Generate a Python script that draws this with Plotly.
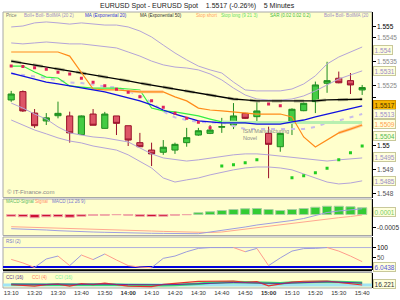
import plotly.graph_objects as go

# ---------------- data ----------------
times = ["13:10","13:15","13:20","13:25","13:30","13:35","13:40","13:45","13:50","13:55",
         "14:00","14:05","14:10","14:15","14:20","14:25","14:30","14:35","14:40","14:45",
         "14:50","14:55","15:00","15:05","15:10","15:15","15:20","15:25","15:30","15:35","15:40"]

open_ = [1.5519, 1.55225, 1.55135, 1.55102, 1.55124, 1.55123, 1.55045, 1.55131, 1.55071, 1.55123,
         1.55082, 1.55011, 1.5498, 1.54971, 1.5498, 1.55011, 1.55043, 1.5505, 1.55076, 1.55085,
         1.55134, 1.5512, 1.5505, 1.54994, 1.55092, 1.55145, 1.55183, 1.5526, 1.55281, 1.55271, 1.55232]
high_ = [1.55228, 1.5523, 1.55152, 1.55135, 1.55183, 1.55141, 1.55125, 1.55152, 1.5514, 1.55123,
         1.55082, 1.55052, 1.55011, 1.55022, 1.55011, 1.55073, 1.55073, 1.55085, 1.55115, 1.55177,
         1.55136, 1.55183, 1.55078, 1.55052, 1.55155, 1.5518, 1.55267, 1.5535, 1.55309, 1.55303, 1.55253]
low_ = [1.55182, 1.5514, 1.55073, 1.55085, 1.55113, 1.55011, 1.55043, 1.55084, 1.5507, 1.55043,
        1.54997, 1.54994, 1.54913, 1.5496, 1.54964, 1.54994, 1.5504, 1.55047, 1.55052, 1.55068,
        1.55111, 1.55102, 1.54862, 1.54973, 1.55043, 1.55143, 1.55135, 1.5522, 1.5526, 1.55215, 1.55211]
close_ = [1.55215, 1.55144, 1.55082, 1.55115, 1.55134, 1.55052, 1.55123, 1.55084, 1.55131, 1.55092,
          1.55022, 1.54994, 1.54964, 1.54992, 1.55004, 1.55032, 1.55061, 1.55064, 1.55078, 1.55123,
          1.55113, 1.55144, 1.55004, 1.5505, 1.55151, 1.55176, 1.55253, 1.55271, 1.55262, 1.55253, 1.55242]

boll_outer_up = [1.55496, 1.555, 1.55513, 1.55517, 1.55513, 1.55508, 1.55513, 1.55508, 1.55504, 1.55504,
                 1.55496, 1.55479, 1.55454, 1.5542, 1.55387, 1.55358, 1.55332, 1.55316, 1.55303, 1.55265,
                 1.55232, 1.55228, 1.55228, 1.55228, 1.55236, 1.55257, 1.55291, 1.55341, 1.5537, 1.55391, 1.55412]
boll_inner_up = [1.55429, 1.55425, 1.55429, 1.55433, 1.55429, 1.55425, 1.55425, 1.5542, 1.55416, 1.55408,
                 1.55391, 1.55374, 1.55353, 1.55337, 1.55328, 1.55324, 1.55316, 1.55299, 1.55274, 1.5524,
                 1.55211, 1.55194, 1.5519, 1.5519, 1.55194, 1.55207, 1.55228, 1.55253, 1.55278, 1.55295, 1.55312]
boll_mid = [1.55301, 1.55293, 1.55288, 1.55282, 1.55272, 1.55263, 1.55261, 1.55253, 1.55247, 1.55242,
            1.55228, 1.55207, 1.5518, 1.55142, 1.55117, 1.55106, 1.55098, 1.55096, 1.55096, 1.55081,
            1.55068, 1.55068, 1.55068, 1.55066, 1.55066, 1.55068, 1.55077, 1.55094, 1.55104, 1.55117, 1.55131]
boll_inner_low = [1.55177, 1.55156, 1.55131, 1.5511, 1.55077, 1.55052, 1.55043, 1.55035, 1.55031, 1.55022,
                  1.55014, 1.54989, 1.54964, 1.54947, 1.54939, 1.54934, 1.54939, 1.54947, 1.54955, 1.5496,
                  1.54964, 1.54964, 1.5496, 1.54955, 1.54951, 1.54947, 1.54939, 1.54934, 1.54939, 1.54943, 1.54947]
boll_outer_low = [1.55106, 1.55085, 1.55064, 1.55048, 1.55031, 1.55018, 1.5501, 1.54997, 1.54989, 1.5498,
                  1.5496, 1.54934, 1.54905, 1.54863, 1.54846, 1.54855, 1.54863, 1.54876, 1.54888, 1.54897,
                  1.54905, 1.54909, 1.54909, 1.54905, 1.54897, 1.5488, 1.54863, 1.54846, 1.54838, 1.54842, 1.54851]
ema20 = [1.55303, 1.55291, 1.55278, 1.55265, 1.55257, 1.55249, 1.5524, 1.55232, 1.55224, 1.55211,
         1.55198, 1.55186, 1.55169, 1.55148, 1.55131, 1.55115, 1.55102, 1.55098, 1.55094, 1.55094,
         1.55094, 1.55089, 1.55089, 1.55089, 1.55098, 1.55106, 1.55119, 1.55131, 1.55144, 1.55156, 1.55165]
ema50 = [1.55353, 1.55345, 1.55337, 1.55328, 1.5532, 1.55312, 1.55303, 1.55295, 1.55286, 1.55278,
         1.5527, 1.55261, 1.55253, 1.55244, 1.55236, 1.55228, 1.55219, 1.55211, 1.55203, 1.55194,
         1.5519, 1.55186, 1.55186, 1.55186, 1.55186, 1.55186, 1.55186, 1.5519, 1.5519, 1.55192, 1.55193]
stop_short = [1.55391, 1.55391, 1.55391, 1.55391, 1.55391, 1.55374, 1.55307, 1.55236, 1.55232, 1.55232,
              1.55228, 1.55224, 1.55224, 1.55224, 1.55203, 1.55186, 1.55156, 1.55148, 1.55144, 1.5514,
              1.55136, 1.55131, 1.55131, 1.55131, 1.55119, 1.55035, 1.54993, 1.55022, 1.55052, 1.55068, 1.55085]
stop_long = [1.55332, 1.55332, 1.55307, 1.55286, 1.55282, 1.55249, 1.55244, 1.5524, 1.5524, 1.5524,
             1.55236, 1.55232, 1.55156, 1.55144, 1.5514, 1.55131, 1.55123, 1.5511, 1.55098, 1.55096,
             1.55096, 1.55096, 1.55096, 1.55096, 1.55096, 1.55096, 1.55096, 1.55096, 1.55096, 1.55096, 1.55096]
sar = [1.55332, 1.5533, 1.55325, 1.55319, 1.55306, 1.55299, 1.55281, 1.55264, 1.5525, 1.55235,
       1.55222, 1.55204, 1.55187, 1.55159, 1.55134, 1.55113, 1.55097, 1.55074, 1.54913, 1.54918,
       1.54927, 1.54939, 1.55173, 1.55166, 1.54864, 1.54872, 1.54885, 1.54904, 1.54939, 1.54969, 1.54997]

macd_hist = [-0.00007, -0.00009, -0.00013, -0.00009, -0.00009, -0.00011, -0.00007, -0.00004, -0.00003, -0.00001,
             -0.00003, -0.00007, -0.00008, -0.00007, -0.00003, -0.00001, 0.00007, 0.00011, 0.00016, 0.0002,
             0.00023, 0.00024, 0.0002, 0.00016, 0.0002, 0.00024, 0.00029, 0.00033, 0.00033, 0.00031, 0.00027]
macd_line = [-0.000568, -0.00058, -0.000592, -0.00062, -0.000648, -0.000672, -0.000688, -0.0007, -0.000712, -0.000728,
             -0.000736, -0.000744, -0.000752, -0.000756, -0.00076, -0.000764, -0.000768, -0.0007, -0.00064, -0.00056,
             -0.0005, -0.00042, -0.00036, -0.00032, -0.00024, -0.00016, -0.00004, 0.00008, 0.00014, 0.00019, 0.00023]
macd_signal = [-0.000488, -0.0005, -0.000512, -0.000528, -0.00054, -0.00056, -0.00058, -0.000592, -0.000608, -0.00062,
               -0.000632, -0.000648, -0.00066, -0.000676, -0.000692, -0.000708, -0.000728, -0.00072, -0.0007, -0.00064,
               -0.000592, -0.00054, -0.00048, -0.00042, -0.00036, -0.0003, -0.00024, -0.00018, -0.000128, -0.00008, -0.00002]

rsi2 = [43, 26, 4, 45, 59, 13, 64, 42, 69, 40, 13, 6, 3, 48, 59, 80, 96, 100, 100, 100,
        80, 96, 13, 50, 83, 95, 96, 100, 83, 59, 32]
rsi_level = 6.0438

cci16 = [40, 30, 20, 30, 40, 20, 30, 40, 50, 30, 20, 10, 0, 10, 20, 40, 60, 80, 100, 110,
         100, 90, 60, 70, 90, 110, 130, 140, 130, 110, 90]
cci4 = [10, -20, -50, 20, 40, -50, 60, 20, 80, 20, -50, -60, -70, 30, 60, 120, 160, 170, 180, 180,
        120, 150, -40, 40, 130, 170, 180, 180, 120, 60, 0]
cci16b = [20, 10, 0, 10, 20, 0, 10, 20, 30, 10, 0, -10, -20, -10, 0, 20, 60, 100, 120, 130,
          120, 110, 70, 80, 110, 130, 140, 150, 140, 120, 100]

price_ticks = [1.548, 1.5485, 1.549, 1.5495, 1.55, 1.5505, 1.551, 1.5515, 1.552, 1.5525,
               1.553, 1.5535, 1.554, 1.5545, 1.555]
price_labels = [(1.555, "1.555", "#000000"), (1.5545, "1.5545", "#888888"), (1.5535, "1.5535", "#888888"),
                (1.5525, "1.5525", "#888888"), (1.55, "1.55", "#000000"), (1.549, "1.549", "#555555"),
                (1.548, "1.548", "#555555")]
price_boxes = [(1.554, "1.554", "#9C8CC8"), (1.5531, "1.5531", "#9C8CC8"),
               (1.5517, "1.5517", "#4a3000"), (1.5513, "1.5513", "#9C8CC8"), (1.5509, "1.5509", "#FFA050"),
               (1.5504, "1.5504", "#55BB55"), (1.5495, "1.5495", "#9C8CC8"), (1.5485, "1.5485", "#9C8CC8")]
last_price_label = "1.5517"

x_tick_vals = times[::2]
x_tick_text = [("<b>%s</b>" % t) if t.endswith(":00") else t for t in x_tick_vals]

# ---------------- geometry helpers ----------------
W, H = 400, 300
ML, MR, MT, MB = 3, 28, 12, 12
PW, PH = W - ML - MR, H - MT - MB


def fx(px):
    return (px - ML) / PW


def fy(py):
    return (H - MB - py) / PH


FONT = "Liberation Sans"
YEL = "#FFFFCC"
BORDER = "#A8A8A8"

dom_main = [fy(197.5), 1.0]
dom_macd = [fy(235.5), fy(199)]
dom_rsi = [fy(270), fy(237)]
dom_cci = [0.0, fy(272.5)]

fig = go.Figure()

# ---------------- main panel ----------------
band_col = "#B4A4D8"
for s in (boll_outer_up, boll_inner_up, boll_inner_low, boll_outer_low):
    fig.add_trace(go.Scatter(x=times, y=s, mode="lines", line=dict(color=band_col, width=1),
                             xaxis="x", yaxis="y", hoverinfo="skip"))
fig.add_trace(go.Scatter(x=times, y=boll_mid, mode="lines",
                         line=dict(color="#C8BCEA", width=2, dash="4px,6px"), xaxis="x", yaxis="y"))
fig.add_trace(go.Scatter(x=times, y=ema50, mode="lines",
                         line=dict(color="#B8B890", width=3, dash="10px,12px"), xaxis="x", yaxis="y"))
fig.add_trace(go.Scatter(x=times, y=ema50, mode="lines", line=dict(color="#000000", width=1.3),
                         xaxis="x", yaxis="y"))
# stop long: bright then pale
fig.add_trace(go.Scatter(x=times[18:], y=stop_long[18:], mode="lines",
                         line=dict(color="#B8F0B0", width=3), xaxis="x", yaxis="y"))
fig.add_trace(go.Scatter(x=times[:19], y=stop_long[:19], mode="lines",
                         line=dict(color="#33EE44", width=1.2), xaxis="x", yaxis="y"))
# stop short
fig.add_trace(go.Scatter(x=times[10:14], y=stop_short[10:14], mode="lines",
                         line=dict(color="#FFCC99", width=3), xaxis="x", yaxis="y"))
fig.add_trace(go.Scatter(x=times[28:], y=stop_short[28:], mode="lines",
                         line=dict(color="#FFCC99", width=3), xaxis="x", yaxis="y"))
fig.add_trace(go.Scatter(x=times, y=stop_short, mode="lines", line=dict(color="#FF8C1A", width=1.2),
                         xaxis="x", yaxis="y"))
fig.add_trace(go.Scatter(x=times, y=ema20, mode="lines", line=dict(color="#1010E0", width=1.3),
                         xaxis="x", yaxis="y"))
# SAR
sar_cols = ["#E0205A" if s > c else "#22CC22" for s, c in zip(sar, close_)]
fig.add_trace(go.Scatter(x=times, y=sar, mode="markers",
                         marker=dict(symbol="square", size=3, color=sar_cols, line=dict(width=0)),
                         xaxis="x", yaxis="y"))
fig.add_trace(go.Candlestick(x=times, open=open_, high=high_, low=low_, close=close_,
                             increasing=dict(fillcolor="#44CC44", line=dict(color="#1E8C1E", width=1)),
                             decreasing=dict(fillcolor="#DD5566", line=dict(color="#99102A", width=1)),
                             xaxis="x", yaxis="y", showlegend=False))

# ---------------- MACD panel ----------------
hist_fill = ["#33CC33" if v >= 0 else "#CC1133" for v in macd_hist]
hist_line = ["#A8D0A0" if v >= 0 else "#F0A8A8" for v in macd_hist]
fig.add_trace(go.Bar(x=times, y=macd_hist, marker=dict(color=hist_fill, line=dict(color=hist_line, width=1)),
                     xaxis="x2", yaxis="y2"))
fig.add_trace(go.Scatter(x=times, y=macd_signal, mode="lines", line=dict(color="#FFA890", width=1),
                         xaxis="x2", yaxis="y2"))
fig.add_trace(go.Scatter(x=times, y=macd_line, mode="lines", line=dict(color="#9E9EE0", width=1),
                         xaxis="x2", yaxis="y2"))

# ---------------- RSI panel ----------------
up_x, up_y, dn_x, dn_y = [], [], [], []
for k in range(len(rsi2) - 1):
    if rsi2[k + 1] >= rsi2[k]:
        up_x += [times[k], times[k + 1], None]
        up_y += [rsi2[k], rsi2[k + 1], None]
    else:
        dn_x += [times[k], times[k + 1], None]
        dn_y += [rsi2[k], rsi2[k + 1], None]
fig.add_trace(go.Scatter(x=up_x, y=up_y, mode="lines", line=dict(color="#9C9CDC", width=1),
                         xaxis="x3", yaxis="y3", connectgaps=False))
fig.add_trace(go.Scatter(x=dn_x, y=dn_y, mode="lines", line=dict(color="#FF9C8C", width=1),
                         xaxis="x3", yaxis="y3", connectgaps=False))

# ---------------- CCI panel ----------------
fig.add_trace(go.Scatter(x=times, y=cci16b, mode="lines", line=dict(color="#33DD77", width=2.5),
                         xaxis="x4", yaxis="y4"))
fig.add_trace(go.Scatter(x=times, y=cci4, mode="lines", line=dict(color="#E83030", width=1.2),
                         xaxis="x4", yaxis="y4"))
fig.add_trace(go.Scatter(x=times, y=cci16, mode="lines", line=dict(color="#6A2C9A", width=1),
                         xaxis="x4", yaxis="y4"))

# ---------------- shapes ----------------
shapes = []
for dom in (dom_main, dom_macd, dom_rsi, dom_cci):
    shapes.append(dict(type="rect", xref="paper", yref="paper", x0=0, x1=1, y0=dom[0], y1=dom[1],
                       fillcolor=YEL, line=dict(color=BORDER, width=1), layer="below"))
shapes.append(dict(type="line", xref="x3 domain", yref="y3", x0=0, x1=1, y0=100, y1=100,
                   line=dict(color="#B0B0DD", width=1), layer="below"))
shapes.append(dict(type="line", xref="x3 domain", yref="y3", x0=0, x1=1, y0=rsi_level, y1=rsi_level,
                   line=dict(color="#0000DD", width=2), layer="below"))
shapes.append(dict(type="line", xref="paper", yref="paper", x0=0, x1=1, y0=fy(270.2), y1=fy(270.2),
                   line=dict(color="#000000", width=2)))
shapes.append(dict(type="line", xref="x4 domain", yref="y4", x0=0, x1=1, y0=0, y1=0,
                   line=dict(color="#A0E4F4", width=3), layer="below"))

# ---------------- annotations ----------------
ann = []
ann.append(dict(text="EURUSD Spot - EURUSD Spot&nbsp;&nbsp;&nbsp;&nbsp;1.5517 (-0.26%)&nbsp;&nbsp;&nbsp;&nbsp;5 Minutes",
                xref="paper", yref="paper", x=fx(197), y=fy(5.5), xanchor="center", yanchor="middle",
                showarrow=False, font=dict(family=FONT, size=7, color="#222222")))

legend_main = [("Price", 4, "#777777"), ("Boll+ Boll- BollMA (20 2)", 22, "#9C8CC8"),
               ("MA (Exponential 20)", 83, "#3333DD"), ("MA (Exponential 50)", 138, "#333333"),
               ("Stop short", 194, "#FFA060"), ("Stop long (9 21 3)", 219, "#66DD66"),
               ("SAR (0.02 0.02 0.2)", 268, "#44BB44"), ("Boll+ Boll- BollMA (20", 322, "#9C8CC8")]
for t, px, c in legend_main:
    ann.append(dict(text=t, xref="paper", yref="paper", x=fx(px), y=fy(16), xanchor="left", yanchor="middle",
                    showarrow=False, font=dict(family=FONT, size=4.6, color=c)))
legend_macd = [("MACD-Signal", 4, "#66BB66"), ("Signal", 33, "#FF9070"), ("MACD (12 26 9)", 50, "#7777CC")]
for t, px, c in legend_macd:
    ann.append(dict(text=t, xref="paper", yref="paper", x=fx(px), y=fy(201.5), xanchor="left", yanchor="middle",
                    showarrow=False, font=dict(family=FONT, size=4.6, color=c)))
ann.append(dict(text="RSI (2)", xref="paper", yref="paper", x=fx(4), y=fy(241.5), xanchor="left",
                yanchor="middle", showarrow=False, font=dict(family=FONT, size=4.6, color="#7777CC")))
legend_cci = [("CCI (16)", 4, "#553388"), ("CCI (4)", 30, "#FF8060"), ("CCI (16)", 53, "#77EE99")]
for t, px, c in legend_cci:
    ann.append(dict(text=t, xref="paper", yref="paper", x=fx(px), y=fy(277), xanchor="left", yanchor="middle",
                    showarrow=False, font=dict(family=FONT, size=4.6, color=c)))

ann.append(dict(text="\u00a9 IT-Finance.com", xref="paper", yref="paper", x=fx(5), y=fy(192),
                xanchor="left", yanchor="middle", showarrow=False,
                font=dict(family=FONT, size=6, color="#888888")))
ann.append(dict(text="ISM Manufacturing<br>Novel", xref="x", yref="y", x=times[20], y=1.55045,
                xanchor="left", yanchor="middle", xshift=-4, showarrow=False, align="left",
                font=dict(family=FONT, size=5.5, color="#8A8A8A")))

for v, t, c in price_labels:
    ann.append(dict(text=t, xref="paper", yref="y", x=1, y=v, xanchor="left", yanchor="middle", xshift=3,
                    showarrow=False, font=dict(family=FONT, size=6.5, color=c)))
for v, t, c in price_boxes:
    is_last = (t == last_price_label)
    ann.append(dict(text=t, xref="paper", yref="y", x=1, y=v, xanchor="left", yanchor="middle", xshift=1,
                    showarrow=False, font=dict(family=FONT, size=6.5, color=c),
                    bgcolor="#F5B400" if is_last else "#FFFFDD",
                    bordercolor="#D09000" if is_last else "#C8C89A", borderwidth=1, borderpad=0.6))

ann.append(dict(text="0.0001", xref="paper", yref="y2", x=1, y=0.0001, xanchor="left", yanchor="middle",
                xshift=1, showarrow=False, font=dict(family=FONT, size=6.5, color="#77CC66"),
                bgcolor="#FFFFDD", bordercolor="#C8C89A", borderwidth=1, borderpad=0.6))
ann.append(dict(text="-0.0005", xref="paper", yref="y2", x=1, y=-0.0005, xanchor="left", yanchor="middle",
                xshift=3, showarrow=False, font=dict(family=FONT, size=6.5, color="#333333")))
ann.append(dict(text="100", xref="paper", yref="y3", x=1, y=100, xanchor="left", yanchor="middle",
                xshift=3, showarrow=False, font=dict(family=FONT, size=6.5, color="#000000")))
ann.append(dict(text="50", xref="paper", yref="y3", x=1, y=50, xanchor="left", yanchor="middle",
                xshift=3, showarrow=False, font=dict(family=FONT, size=6.5, color="#555555")))
ann.append(dict(text="6.0438", xref="paper", yref="y3", x=1, y=rsi_level, xanchor="left", yanchor="middle",
                xshift=1, showarrow=False, font=dict(family=FONT, size=6.5, color="#5555DD"),
                bgcolor="#FFFFDD", bordercolor="#C8C89A", borderwidth=1, borderpad=0.6))
ann.append(dict(text="16.221", xref="paper", yref="y4", x=1, y=30, xanchor="left", yanchor="middle",
                xshift=1, showarrow=False, font=dict(family=FONT, size=6.5, color="#333333"),
                bgcolor="#FFFFDD", bordercolor="#C8C89A", borderwidth=1, borderpad=0.6))

# ---------------- axes ----------------
xr = [-0.70, 30.84]
xbase = dict(type="category", categoryorder="array", categoryarray=times, range=xr, showgrid=False,
             zeroline=False, showline=False, fixedrange=True, rangeslider=dict(visible=False))
ybase = dict(side="right", showgrid=False, zeroline=False, showline=True, linecolor="#000000", linewidth=1,
             ticks="outside", ticklen=3, tickcolor="#000000", tickwidth=1, showticklabels=False,
             fixedrange=True)

fig.update_layout(
    width=W, height=H,
    margin=dict(l=ML, r=MR, t=MT, b=MB, pad=0),
    paper_bgcolor="#FFFFFF", plot_bgcolor="rgba(0,0,0,0)",
    showlegend=False, hovermode=False,
    font=dict(family=FONT, size=6, color="#333333"),
    boxgap=0.25, bargap=0.22,
    xaxis=dict(xbase, anchor="y", domain=[0, 1], showticklabels=False),
    xaxis2=dict(xbase, anchor="y2", domain=[0, 1], matches="x", showticklabels=False),
    xaxis3=dict(xbase, anchor="y3", domain=[0, 1], matches="x", showticklabels=False),
    xaxis4=dict(xbase, anchor="y4", domain=[0, 1], matches="x", showticklabels=True,
                tickmode="array", tickvals=x_tick_vals, ticktext=x_tick_text, ticks="",
                tickfont=dict(family=FONT, size=6, color="#333333")),
    yaxis=dict(ybase, anchor="x", domain=dom_main, range=[1.547812, 1.555587],
               tickmode="array", tickvals=price_ticks),
    yaxis2=dict(ybase, anchor="x2", domain=dom_macd, range=[-0.00084, 0.00062],
                tickmode="array", tickvals=[0.0001, -0.0005]),
    yaxis3=dict(ybase, anchor="x3", domain=dom_rsi, range=[-8.2, 150.9],
                tickmode="array", tickvals=[100, 50]),
    yaxis4=dict(ybase, anchor="x4", domain=dom_cci, range=[-136, 565],
                tickmode="array", tickvals=[30]),
    shapes=shapes,
    annotations=ann,
)

fig.write_html("out.html")
